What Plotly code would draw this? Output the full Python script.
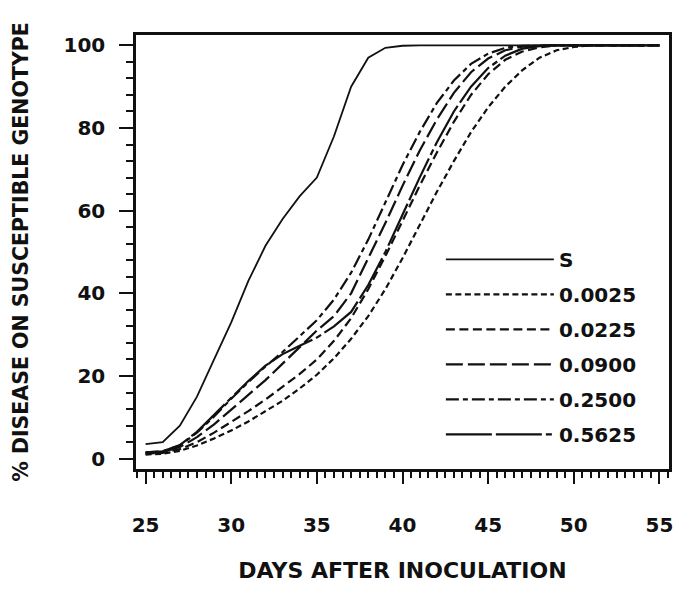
import plotly.graph_objects as go

days = list(range(25, 56))

s_curve = [3.5, 4.0, 8.0, 15.0, 24.0, 33.0, 43.0, 51.5, 58.0, 63.5, 68.0, 78.0, 90.0, 97.0, 99.4, 99.9,
           100, 100, 100, 100, 100, 100, 100, 100, 100, 100, 100, 100, 100, 100, 100]
r_0025 = [1.0, 1.2, 1.9, 3.2, 4.9, 6.8, 9.0, 11.4, 14.0, 17.0, 20.3, 24.3, 29.0, 34.5, 41.0, 48.5,
          56.5, 64.5, 72.0, 79.0, 85.0, 90.0, 94.0, 97.0, 98.8, 99.6, 100, 100, 100, 100, 100]
r_0225 = [1.2, 1.4, 2.3, 4.0, 6.3, 8.8, 11.5, 14.3, 17.3, 20.5, 24.0, 28.5, 34.0, 41.0, 49.0, 57.5,
          66.0, 74.0, 81.5, 88.0, 93.0, 96.5, 98.5, 99.5, 100, 100, 100, 100, 100, 100, 100]
r_0900 = [1.3, 1.6, 2.8, 5.2, 8.3, 11.8, 15.3, 19.0, 23.0, 27.0, 31.0, 34.5, 40.0, 48.5, 57.0, 66.0,
          74.5, 82.0, 88.5, 93.5, 96.8, 98.8, 99.7, 100, 100, 100, 100, 100, 100, 100, 100]
r_2500 = [1.5, 1.8, 3.2, 6.3, 10.2, 14.5, 18.5, 22.3, 25.8, 29.7, 33.5, 38.5, 45.0, 53.0, 62.0, 71.0,
          79.0, 86.0, 91.5, 95.5, 98.0, 99.4, 99.9, 100, 100, 100, 100, 100, 100, 100, 100]
r_5625 = [1.5, 1.8, 3.3, 6.5, 10.6, 14.8, 18.8, 22.5, 25.3, 27.3, 29.3, 32.0, 35.5, 42.0, 50.0, 59.0,
          68.0, 76.5, 84.0, 90.0, 94.5, 97.5, 99.2, 99.8, 100, 100, 100, 100, 100, 100, 100]

series_names = ["S", "0.0025", "0.0225", "0.0900", "0.2500", "0.5625"]
series_values = [s_curve, r_0025, r_0225, r_0900, r_2500, r_5625]
series_dash = ["solid", "6px,3.5px", "9px,4.5px", "17px,5px", "13px,4px,5px,4px", "46px,4px,46px,4px,6px,4px"]
series_width = [1.8, 2.2, 2.2, 2.2, 2.2, 2.2]

x_ticks = [25, 30, 35, 40, 45, 50, 55]
y_ticks = [0, 20, 40, 60, 80, 100]

FONT = "DejaVu Sans"
INK = "#111111"

fig = go.Figure()
for i, (name, vals, dash, w) in enumerate(zip(series_names, series_values, series_dash, series_width)):
    fig.add_trace(go.Scatter(
        x=days, y=vals, mode="lines", name=name,
        line=dict(color=INK, width=w, dash=dash),
        legendgroup=f"g{i}",
    ))

# page body has an 8px default margin, so the figure is 676x582 placed at (8, 8)
fig.update_layout(
    width=676, height=582,
    margin=dict(l=124, r=11, t=27, b=90),
    paper_bgcolor="white", plot_bgcolor="white",
    font=dict(family=FONT, color=INK, size=20, weight="bold"),
    showlegend=True,
    legend=dict(
        x=0.572, y=0.528, xanchor="left", yanchor="top",
        bgcolor="rgba(0,0,0,0)", borderwidth=0,
        font=dict(family=FONT, size=20, color=INK, weight="bold"),
        itemwidth=108, tracegroupgap=6, traceorder="grouped",
    ),
)

fig.update_xaxes(
    range=[24.44, 55.56], tickvals=x_ticks, ticktext=[str(v) for v in x_ticks],
    showline=True, linecolor=INK, linewidth=2.5, mirror=True,
    ticks="outside", ticklen=12, tickwidth=2, tickcolor=INK,
    minor=dict(dtick=0.5, tick0=25, ticks="outside", ticklen=6, tickwidth=1.5, tickcolor=INK, showgrid=False),
    showgrid=False, zeroline=False,
    tickfont=dict(family=FONT, size=20, weight="bold"),
    ticklabelstandoff=24,
    title=dict(text="DAYS AFTER INOCULATION", font=dict(family=FONT, size=22, weight="bold"), standoff=27),
)
fig.update_yaxes(
    range=[-2.5, 102.5], tickvals=y_ticks, ticktext=[str(v) for v in y_ticks],
    showline=True, linecolor=INK, linewidth=2.5, mirror=True,
    ticks="outside", ticklen=14, tickwidth=2, tickcolor=INK,
    minor=dict(dtick=4, tick0=0, ticks="outside", ticklen=7, tickwidth=2, tickcolor=INK, showgrid=False),
    showgrid=False, zeroline=False,
    tickfont=dict(family=FONT, size=20, weight="bold"),
    ticklabelstandoff=10,
    title=dict(text="% DISEASE ON SUSCEPTIBLE GENOTYPE", font=dict(family=FONT, size=20.5, weight="bold"), standoff=30),
)

fig.write_html("out.html")
